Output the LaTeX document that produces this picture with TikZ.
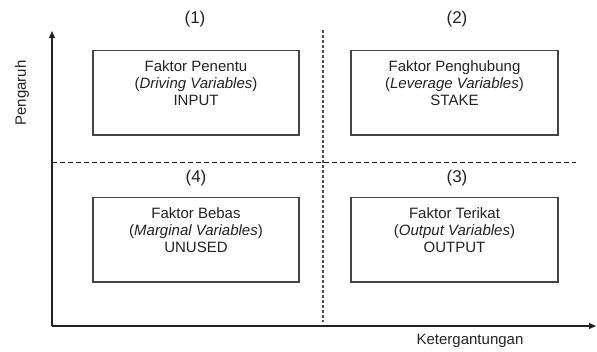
\documentclass[tikz,border=0pt]{standalone}
\usepackage{fontspec}
\setmainfont{Liberation Sans}
\usetikzlibrary{arrows.meta}
\definecolor{ink}{HTML}{222222}
\definecolor{frame}{HTML}{444444}
\tikzset{
  axis/.style={draw=ink, line width=1.2pt, -{Triangle[length=7pt,width=6pt]}},
  quadbox/.style={draw=frame, line width=1.2pt},
  boxtext/.style={text=ink, align=center, font=\fontsize{15}{17}\selectfont, inner sep=0pt, anchor=north},
  quadnum/.style={text=ink, font=\fontsize{17}{19}\selectfont, inner sep=0pt},
  axislabel/.style={text=ink, font=\fontsize{15}{17}\selectfont, inner sep=0pt},
  hsplit/.style={draw=ink, line width=1pt, dash pattern=on 5pt off 3pt},
  vsplit/.style={draw=ink!80, line width=1.2pt, dash pattern=on 2.5pt off 2.5pt}
}
\begin{document}
\begin{tikzpicture}[x=1pt,y=-1pt]
  \useasboundingbox (0,0) rectangle (597,351);

  % axes
  \coordinate (origin) at (52,326);
  \coordinate (ytip) at (52,31);
  \coordinate (xtip) at (596,326);
  \draw[axis] (origin) -- (ytip);
  \draw[axis] (origin) -- (xtip);

  % quadrant separators
  \coordinate (hl) at (52,162.5);
  \coordinate (hr) at (576,162.5);
  \coordinate (vt) at (323,30);
  \coordinate (vb) at (323,322);
  \draw[hsplit] (hl) -- (hr);
  \draw[vsplit] (vt) -- (vb);

  % quadrant boxes
  \draw[quadbox] (93,50.5) rectangle (299,135);
  \draw[quadbox] (351,50.5) rectangle (558,135);
  \draw[quadbox] (93,197.5) rectangle (299,282);
  \draw[quadbox] (351,197.5) rectangle (558,282);

  % box texts
  \node[boxtext] (q1) at (196,60) {Faktor Penentu\\(\textit{Driving Variables})\\INPUT};
  \node[boxtext] (q2) at (454.5,60) {Faktor Penghubung\\(\textit{Leverage Variables})\\STAKE};
  \node[boxtext] (q4) at (196,207) {Faktor Bebas\\(\textit{Marginal Variables})\\UNUSED};
  \node[boxtext] (q3) at (454.5,207) {Faktor Terikat\\(\textit{Output Variables})\\OUTPUT};

  % quadrant numbers
  \node[quadnum] (n1) at (195,19) {(1)};
  \node[quadnum] (n2) at (457,19) {(2)};
  \node[quadnum] (n4) at (196,178) {(4)};
  \node[quadnum] (n3) at (457,178) {(3)};

  % axis labels
  \node[axislabel, rotate=90] (ylab) at (22,93) {Pengaruh};
  \node[axislabel] (xlab) at (470,341) {Ketergantungan};
\end{tikzpicture}
\end{document}
